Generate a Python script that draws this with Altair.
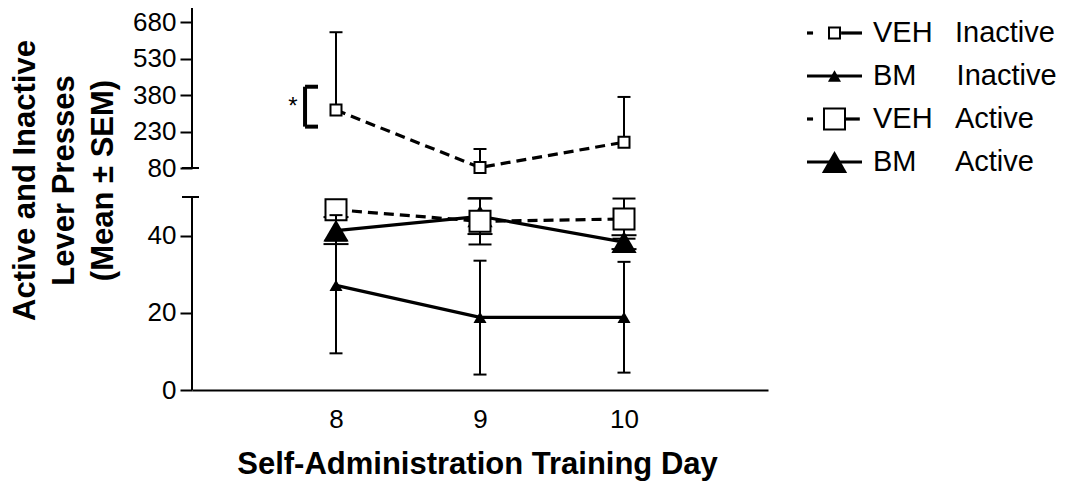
import altair as alt
import pandas as pd

# ---------------- data ----------------
days = [8, 9, 10]

veh_inactive_mean = [318, 82, 186]
veh_inactive_upper = [638, 158, 372]
veh_inactive_lower = [None, None, None]

bm_inactive_mean = [27.1, 18.8, 18.8]
bm_inactive_upper = [45.3, 33.5, 33.2]
bm_inactive_lower = [9.5, 4.0, 4.5]

veh_active_mean = [46.7, 43.7, 44.3]
veh_active_upper = [None, 49.7, 49.6]
veh_active_lower = [38.7, 37.7, 39.2]

bm_active_mean = [41.3, 45.0, 38.3]
bm_active_upper = [44.8, 49.6, 40.1]
bm_active_lower = [37.8, 40.4, 36.5]

y_tick_values = [0, 20, 40, 80, 230, 380, 530, 680]
x_tick_values = [8, 9, 10]
axis_seg_start = [0, 80]      # broken y axis: two segments
axis_seg_end = [50, 750]
break_marks = [50, 80]

sig_low_high = [250, 414]     # significance bracket
sig_days = [7.785, 7.875]
star_day = [7.70]
star_value = [330]

legend_first = ["VEH", "BM", "VEH", "BM"]
legend_second = ["Inactive", "Inactive", "Active", "Active"]

# ---------------- layout / style ----------------
FONT = "Liberation Sans"
W, H = 576, 382
xs = alt.Scale(domain=[7, 11], nice=False, zero=False)
ys = alt.Scale(domain=[0, 50, 80, 680], range=[382, 189, 160, 14], nice=False, zero=False)

X_AXIS = alt.Axis(
    values=x_tick_values, ticks=False, domain=True, domainColor="black", domainWidth=2,
    grid=False, labelFontSize=26, labelFont=FONT, labelColor="black", labelPadding=16,
    title="Self-Administration Training Day", titleFont=FONT, titleFontSize=31,
    titleFontWeight="bold", titleColor="black", titleX=285, titleY=83,
    titleBaseline="alphabetic", titleAlign="center")
Y_AXIS = alt.Axis(
    values=y_tick_values, domain=False, ticks=True, tickSize=12, tickWidth=2, tickColor="black",
    grid=False, labelFontSize=26, labelFont=FONT, labelColor="black", labelPadding=4,
    title=["Active and Inactive", "Lever Presses", "(Mean \u00b1 SEM)"],
    titleFont=FONT, titleFontSize=31, titleFontWeight="bold", titleColor="black",
    titleX=-167, titleY=172, titleAlign="center", titleBaseline="middle",
    titleAngle=270, titleLineHeight=39)


def X(field="day"):
    return alt.X(f"{field}:Q", scale=xs, axis=X_AXIS)


def Y(field):
    return alt.Y(f"{field}:Q", scale=ys, axis=Y_AXIS)


styles = {
    "VEH Inactive": dict(dash=[10, 6], shape="square", size=121, fill="white", sw=2, cap=13),
    "BM Inactive": dict(dash=None, shape="triangle-up", size=170, fill="black", sw=0, cap=13),
    "VEH Active": dict(dash=[10, 6], shape="square", size=441, fill="white", sw=2, cap=23),
    "BM Active": dict(dash=None, shape="triangle-up", size=640, fill="black", sw=0, cap=25),
}


def series_layers(name, mean, upper, lower):
    st = styles[name]
    df = pd.DataFrame({"day": days, "val": mean})
    rows = []
    for d, m, u, l in zip(days, mean, upper, lower):
        if u is not None:
            rows.append({"day": d, "val": m, "end": u})
        if l is not None:
            rows.append({"day": d, "val": m, "end": l})
    layers = []
    line_kw = dict(strokeWidth=3.2, color="black")
    if st["dash"]:
        line_kw["strokeDash"] = st["dash"]
    layers.append(alt.Chart(df).mark_line(**line_kw).encode(x=X(), y=Y("val")))
    if rows:
        edf = pd.DataFrame(rows)
        layers.append(
            alt.Chart(edf).mark_rule(strokeWidth=2, color="black").encode(
                x=X(), y=Y("val"), y2=alt.Y2("end"))
        )
        half = st["cap"] / 2
        edf2 = edf.drop(columns=["val"]).rename(columns={"end": "val"})
        layers.append(
            alt.Chart(edf2).mark_rule(strokeWidth=2, color="black", xOffset=-half, x2Offset=half).encode(
                x=X(), x2=alt.X2("day"), y=Y("val"))
        )
    pt_kw = dict(shape=st["shape"], size=st["size"], filled=True, fill=st["fill"], opacity=1)
    if st["sw"]:
        pt_kw.update(stroke="black", strokeWidth=st["sw"])
    else:
        pt_kw.update(strokeWidth=0)
    layers.append(alt.Chart(df).mark_point(**pt_kw).encode(x=X(), y=Y("val")))
    return layers


# axes: broken y axis drawn as two rule segments
axis_df = pd.DataFrame({"day": [7, 7], "val": axis_seg_start, "end": axis_seg_end})
axis_layer = alt.Chart(axis_df).mark_rule(strokeWidth=2, color="black").encode(
    x=X(), y=Y("val"), y2=alt.Y2("end"))
break_df = pd.DataFrame({"day": [7] * len(break_marks), "val": break_marks})
break_layer = alt.Chart(break_df).mark_rule(strokeWidth=2, color="black", xOffset=-10, x2Offset=7).encode(
    x=X(), x2=alt.X2("day"), y=Y("val"))

# significance bracket
sig_v = pd.DataFrame({"day": [sig_days[0]], "val": [sig_low_high[0]], "end": [sig_low_high[1]]})
sig_h = pd.DataFrame({"day": [sig_days[0]] * 2, "day2": [sig_days[1]] * 2, "val": sig_low_high})
sig_layers = [
    alt.Chart(sig_v).mark_rule(strokeWidth=4, color="black").encode(x=X(), y=Y("val"), y2=alt.Y2("end")),
    alt.Chart(sig_h).mark_rule(strokeWidth=4, color="black").encode(x=X(), x2=alt.X2("day2"), y=Y("val")),
    alt.Chart(pd.DataFrame({"day": star_day, "val": star_value, "t": ["*"]})).mark_text(
        font=FONT, fontSize=24, color="black", baseline="middle", align="center").encode(
        x=X(), y=Y("val"), text="t:N"),
]

main_layers = [axis_layer, break_layer] + sig_layers
main_layers += series_layers("BM Active", bm_active_mean, bm_active_upper, bm_active_lower)
main_layers += series_layers("VEH Active", veh_active_mean, veh_active_upper, veh_active_lower)
main_layers += series_layers("BM Inactive", bm_inactive_mean, bm_inactive_upper, bm_inactive_lower)
main_layers += series_layers("VEH Inactive", veh_inactive_mean, veh_inactive_upper, veh_inactive_lower)
main = alt.layer(*main_layers)

# ---------------- hand-made legend (own scales) ----------------
LX = lambda f: alt.X(f"{f}:Q", scale=alt.Scale(domain=[0, 1], range=[615, 670], nice=False, zero=False), axis=None)
LY = lambda f: alt.Y(f"{f}:Q", scale=alt.Scale(domain=[0, 3], range=[25, 154], nice=False, zero=False), axis=None)

order = ["VEH Inactive", "BM Inactive", "VEH Active", "BM Active"]
seg_rows = []
for i, nm in enumerate(order):
    if styles[nm]["dash"]:
        small = styles[nm]["size"] < 200
        seg_rows.append({"a": 0.0, "b": 0.11, "r": i})
        seg_rows.append({"a": 0.62 if small else 0.68, "b": 1.0 if small else 0.96, "r": i})
    else:
        seg_rows.append({"a": 0.0, "b": 1.0, "r": i})
seg_df = pd.DataFrame(seg_rows)
mk_df = pd.DataFrame({
    "x": [0.5] * 4, "r": list(range(4)),
    "shape": [styles[n]["shape"] for n in order],
    "size": [styles[n]["size"] for n in order],
    "fill": [styles[n]["fill"] for n in order],
    "sw": [styles[n]["sw"] for n in order],
})
txt1 = pd.DataFrame({"x": [1.2] * 4, "r": list(range(4)), "t": legend_first})
txt2 = pd.DataFrame({"x": [2.69, 2.72, 2.69, 2.69], "r": list(range(4)), "t": legend_second})

legend = alt.layer(
    alt.Chart(seg_df).mark_rule(strokeWidth=3.2, color="black").encode(x=LX("a"), x2=alt.X2("b"), y=LY("r")),
    alt.Chart(mk_df).mark_point(filled=True, opacity=1, stroke="black").encode(
        x=LX("x"), y=LY("r"),
        shape=alt.Shape("shape:N", scale=None),
        size=alt.Size("size:Q", scale=None),
        fill=alt.Fill("fill:N", scale=None),
        strokeWidth=alt.StrokeWidth("sw:Q", scale=None)),
    alt.Chart(txt1).mark_text(font=FONT, fontSize=29, color="black", align="left", baseline="middle").encode(
        x=LX("x"), y=LY("r"), text="t:N"),
    alt.Chart(txt2).mark_text(font=FONT, fontSize=29, color="black", align="left", baseline="middle").encode(
        x=LX("x"), y=LY("r"), text="t:N"),
)

chart = alt.layer(main, legend).resolve_scale(x="independent", y="independent").properties(
    width=W, height=H,
    padding={"left": 184, "top": 0, "right": 292, "bottom": 92},
    autosize=alt.AutoSizeParams(type="none"),
    background="white",
).configure_view(stroke=None)

chart.save("out.html", embed_options={"renderer": "svg", "actions": False})
